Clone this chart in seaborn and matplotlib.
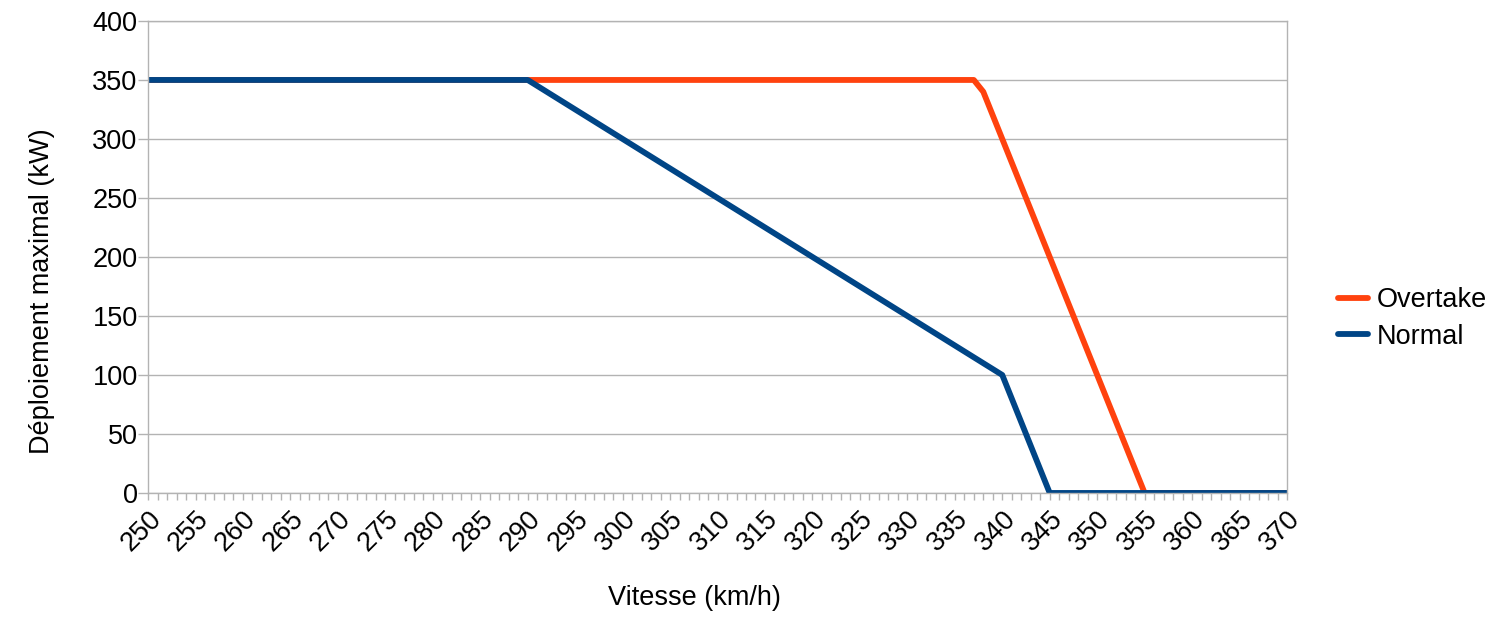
import pandas as pd
import matplotlib.pyplot as plt
from matplotlib.ticker import MultipleLocator
import seaborn as sns

# breakpoints of each curve (km/h, kW)
speed_overtake = [250, 337, 338, 355, 370]
power_overtake = [350, 350, 340, 0, 0]
speed_normal = [250, 290, 340, 345, 370]
power_normal = [350, 350, 100, 0, 0]

series_names = ['Overtake', 'Normal']
series_colors = ['#ff420e', '#004586']

df = pd.concat([
    pd.DataFrame({'speed': speed_overtake, 'power': power_overtake, 'mode': 'Overtake'}),
    pd.DataFrame({'speed': speed_normal, 'power': power_normal, 'mode': 'Normal'}),
])

sns.set_theme(style='white')
plt.rcParams['font.family'] = ['Liberation Sans', 'DejaVu Sans']
plt.rcParams['text.color'] = 'black'
plt.rcParams['xtick.color'] = 'black'
plt.rcParams['ytick.color'] = 'black'
plt.rcParams['axes.labelcolor'] = 'black'

fig = plt.figure(figsize=(15, 6.37), dpi=100)
ax = fig.add_axes([0.0987, 0.2261, 0.7593, 0.741])

lw = 4.2
sns.lineplot(data=df, x='speed', y='power', hue='mode', hue_order=series_names,
             palette=series_colors, linewidth=lw, ax=ax, legend=False, sort=False,
             estimator=None)

ax.set_xlim(250, 370)
ax.set_ylim(0, 400)
ax.xaxis.set_major_locator(MultipleLocator(5))
ax.xaxis.set_minor_locator(MultipleLocator(1))
ax.yaxis.set_major_locator(MultipleLocator(50))
ax.grid(axis='y', color='#b3b3b3', linewidth=1)
ax.set_axisbelow(True)
for s in ax.spines.values():
    s.set_color('#b3b3b3')
    s.set_linewidth(1)

ax.tick_params(axis='x', which='both', bottom=True, length=5, width=1, color='#b3b3b3',
               labelcolor='black', labelsize=19.5, pad=4)
ax.tick_params(axis='y', which='major', left=True, length=7, width=1, color='#b3b3b3',
               labelcolor='black', labelsize=19.5, pad=0.5)
plt.setp(ax.get_xticklabels(), rotation=45, ha='right', rotation_mode='anchor')

ax.set_xlabel('Vitesse (km/h)', fontsize=19.5, va='center')
ax.set_ylabel('Déploiement maximal (kW)', fontsize=19.5, va='center')
ax.xaxis.set_label_coords(0.480, -0.2225)
ax.yaxis.set_label_coords(-0.093, 0.428)

handles = [plt.Line2D([], [], color=c, linewidth=lw) for c in series_colors]
fig.legend(handles, series_names, loc='center left', bbox_to_anchor=(0.876, 0.50),
           frameon=False, fontsize=19.5, handlelength=1.1, handletextpad=0.3,
           labelspacing=0.4)

fig.savefig('out.png', dpi=100)
